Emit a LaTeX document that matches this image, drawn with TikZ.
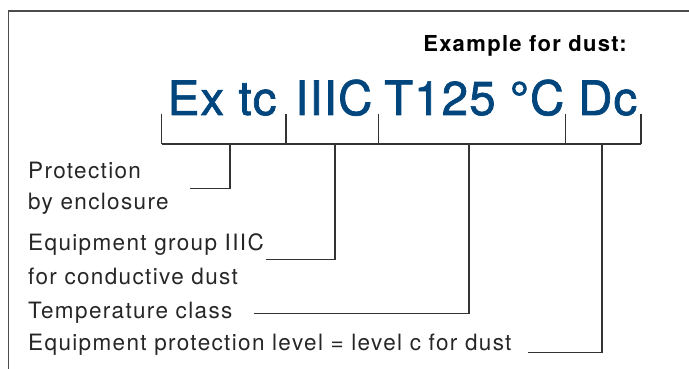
\documentclass[tikz,border=0pt]{standalone}
\usepackage{fontspec}
\setmainfont{TeX Gyre Heros}
\newfontfamily\descfont[LetterSpace=6]{TeX Gyre Heros}
\newfontfamily\markfont[LetterSpace=2.4, FakeBold=1.5]{TeX Gyre Heros}

\begin{document}
\begin{tikzpicture}[x=1pt, y=-1pt,
    desc/.style={anchor=base west, inner sep=0pt, text=black!85,
        font=\descfont\fontsize{22.5}{25}\selectfont},
    marking/.style={anchor=base west, inner sep=0pt, text=markBlue,
        font=\markfont\fontsize{47.4}{50}\selectfont},
    bracketline/.style={draw=black!80, line width=1.1pt},
    leader/.style={draw=black!80, line width=1.1pt}]
    \definecolor{markBlue}{HTML}{00457C}

    \useasboundingbox (0,0) rectangle (689,369);

    % Draw frame - only top and left edge are visible
    \draw[black!70, line width=1.2pt] (8.3,369) -- (8.3,11) -- (689,11);

    % Heading
    \node[anchor=base east, inner sep=0pt, font=\descfont\bfseries\fontsize{22}{25}\selectfont]
        (heading) at (627,51.7) {Example for dust:};

    % Marking string, one node per part
    \node[marking] (ex)    at (167.5,115) {Ex tc};
    \node[marking] (group) at (295,115)   {IIIC};
    \node[marking] (temp)  at (384,115)   {T125 °C};
    \node[marking] (epl)   at (578,115)   {Dc};

    % Bracket under the marking
    \foreach \n/\x in {0/161.7,1/286,2/378.7,3/565.7,4/641}
        \coordinate (tick\n) at (\x,114);
    \foreach \n in {0,...,4}
        \draw[bracketline] (tick\n) -- ++(0,30);

    % Drop points on the bracket and free ends of the leaders
    \coordinate (drop1) at (230,144);
    \coordinate (drop2) at (335,144);
    \coordinate (drop3) at (469,144);
    \coordinate (drop4) at (602,144);
    \coordinate (end1) at (190,188.3);
    \coordinate (end2) at (265.7,259.3);
    \coordinate (end3) at (254,313.3);
    \coordinate (end4) at (528,352.7);

    \draw[bracketline] (tick0 |- drop1) -- (tick4 |- drop1);

    % Descriptions
    \node[desc] (prot)   at (28,178.3) {Protection};
    \node[desc] (encl)   at (28,209.3) {by enclosure};
    \node[desc] (eqgrp)  at (28,250)   {Equipment group IIIC};
    \node[desc] (cond)   at (28,284.3) {for conductive dust};
    \node[desc] (tclass) at (28,318.3) {Temperature class};
    \node[desc] (eplev)  at (28,350)   {Equipment protection level = level c for dust};

    % Leaders from bracket to descriptions
    \foreach \n in {1,...,4}
        \draw[leader] (drop\n) |- (end\n);

\end{tikzpicture}
\end{document}
